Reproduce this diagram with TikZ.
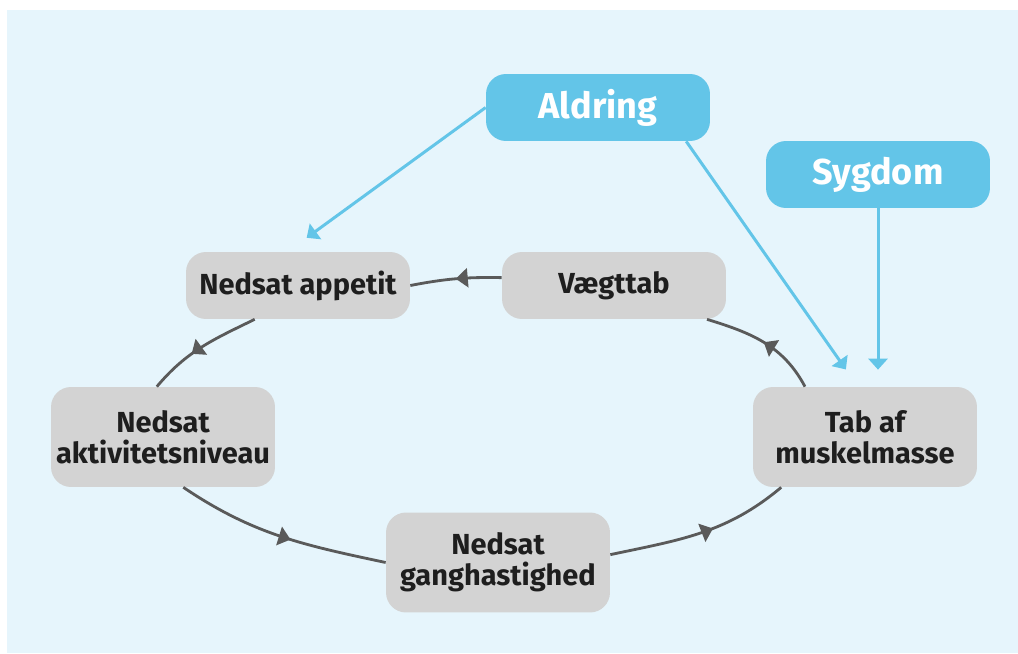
\documentclass[tikz,border=0pt]{standalone}
\usepackage{fontspec}
\setmainfont{Fira Sans}
\usetikzlibrary{arrows.meta, positioning, decorations.markings}
\definecolor{bgblue}{RGB}{230,245,252}
\definecolor{causeblue}{RGB}{99,197,232}
\definecolor{boxgray}{RGB}{211,211,211}
\definecolor{linegray}{RGB}{90,90,90}
\definecolor{textdark}{RGB}{30,30,30}

\begin{document}
\begin{tikzpicture}[
    x=0.02cm, y=0.02cm,
    state/.style={rectangle, rounded corners=0.4cm, fill=boxgray, text=textdark, align=center,
        font=\bfseries\fontsize{16.5}{17.6}\selectfont, minimum width=4.48cm, minimum height=1.34cm, inner sep=0pt},
    tall/.style={minimum height=2cm},
    cause/.style={rectangle, rounded corners=0.4cm, fill=causeblue, text=white,
        font=\bfseries\fontsize{20.5}{22}\selectfont, minimum width=4.48cm, minimum height=1.34cm},
    cycle/.style={draw=linegray, line width=1.6pt, postaction={decorate},
        decoration={markings, mark=at position #1 with {\arrow[linegray]{Triangle[length=0.24cm, width=0.38cm]}}}},
    cycle/.default=0.5,
    effect/.style={draw=causeblue, line width=1.7pt, -{Triangle[length=0.22cm, width=0.38cm]}}
]
    \fill[bgblue] (7,0) rectangle (1018,643);
    \useasboundingbox (0,0) rectangle (1018,653);

    \node[cause] (aldring) at (598,545.5) {Aldring};
    \node[cause] (sygdom) at (878,478.5) {Sygdom};
    \node[state] (appetit) at (298,367.5) {Nedsat appetit};
    \node[state] (vaegttab) at (614,367.5) {Vægttab};
    \node[state, tall] (aktiv) at (163,216) {Nedsat\\aktivitetsniveau};
    \node[state, tall] (tab) at (865,216) {Tab af\\muskelmasse};
    \node[state, tall] (gang) at (498,90.5) {Nedsat\\ganghastighed};

    \draw[cycle] (vaegttab.176) to[bend right=6] (appetit.east);
    \draw[cycle=0.6] (appetit.218) to[out=206, in=50] (aktiv.97);
    \draw[cycle=0.55] (aktiv.292) to[out=-34, in=168] (gang.west);
    \draw[cycle=0.57] (gang.4) to[out=12, in=220] (tab.211);
    \draw[cycle] (tab.140) to[out=118, in=-17] (vaegttab.340);

    \draw[effect, shorten >=0.47cm] (aldring.west) -- (appetit.107);
    \draw[effect, shorten >=0.42cm] (aldring.339) -- (tab.98);
    \draw[effect, shorten >=0.34cm] (sygdom.south) -- (sygdom.south |- tab.north);
\end{tikzpicture}
\end{document}
